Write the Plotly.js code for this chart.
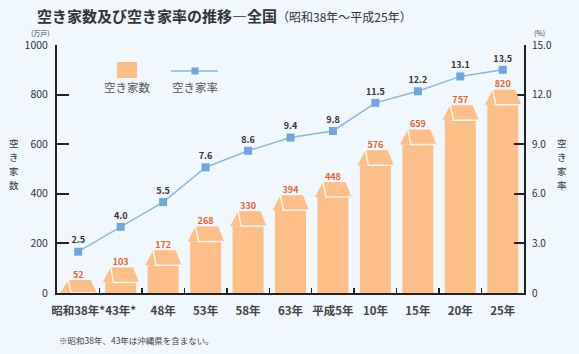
<!DOCTYPE html>
<html>
<head>
<meta charset="utf-8">
<script src="https://cdn.plot.ly/plotly-3.0.1.min.js"></script>
<style>
  html, body { margin: 0; padding: 0; background: #f0f7fd; }
  #chart { width: 579px; height: 354px; }
</style>
</head>
<body>
<div id="chart"></div>
<script>
// ---- data ----
const categories = ['昭和38年*', '43年*', '48年', '53年', '58年', '63年', '平成5年', '10年', '15年', '20年', '25年'];
const vacantHomes = [52, 103, 172, 268, 330, 394, 448, 576, 659, 757, 820];   // 万戸
const vacancyRate = [2.5, 4.0, 5.5, 7.6, 8.6, 9.4, 9.8, 11.5, 12.2, 13.1, 13.5]; // %
const leftTicks = [0, 200, 400, 600, 800, 1000];
const rightTicks = [0, 3, 6, 9, 12, 15];
const rightTickText = ['0', '3.0', '6.0', '9.0', '12.0', '15.0'];

// ---- geometry helpers (plot area in px) ----
const W = 579, H = 354;
const M = { l: 57, r: 55, t: 45, b: 61 };
const plotW = W - M.l - M.r, plotH = H - M.t - M.b;
const yMax = 1000;
const ux = (categories.length) / plotW;  // category units per px
const uy = yMax / plotH;                 // data units per px
const FONT = '"Noto Sans CJK JP", "Noto Sans", sans-serif';
const idx = categories.map((_, i) => i);

// house roof: height in px, capped by bar height
const roofPx = vacantHomes.map(v => Math.min(15, v / uy));
const bodyVals = vacantHomes.map((v, i) => v - roofPx[i] * uy);

const shapes = [];
vacantHomes.forEach((v, i) => {
  const eave = v - roofPx[i] * uy;
  const L = [i - 18 * ux, eave], P = [i - 10 * ux, v], Q = [i + 12.5 * ux, v], E = [i + 18.5 * ux, eave];
  shapes.push({
    type: 'path', xref: 'x', yref: 'y', layer: 'above',
    path: `M${L[0]},${L[1]} L${P[0]},${P[1]} L${Q[0]},${Q[1]} L${E[0]},${E[1]} Z`,
    fillcolor: '#fdbe87', line: { width: 0 }
  });
  const S = [i - 7 * ux, eave];
  shapes.push({
    type: 'path', xref: 'x', yref: 'y', layer: 'above',
    path: `M${P[0]},${P[1]} L${S[0]},${S[1]} L${E[0] - 0.5 * ux},${E[1]}`,
    line: { color: '#fff6ec', width: 1.5 }
  });
});

// ---- custom legend (paper coords from px) ----
const px2x = px => (px - M.l) / plotW;
const px2y = py => (M.t + plotH - py) / plotH;
shapes.push({ type: 'rect', xref: 'paper', yref: 'paper', x0: px2x(117), x1: px2x(137), y0: px2y(78), y1: px2y(62), fillcolor: '#fdbe87', line: { width: 0 } });
shapes.push({ type: 'line', xref: 'paper', yref: 'paper', x0: px2x(171), x1: px2x(218), y0: px2y(71), y1: px2y(71), line: { color: '#86b8e6', width: 1.5 } });
shapes.push({ type: 'rect', xref: 'paper', yref: 'paper', x0: px2x(191.5), x1: px2x(198.5), y0: px2y(74.5), y1: px2y(67.5), fillcolor: '#6ea7dd', line: { width: 0 } });

const annotations = [
  { text: '空き家数', xref: 'paper', yref: 'paper', x: px2x(127), y: px2y(87), showarrow: false, font: { family: FONT, size: 11.5, color: '#555' }, xanchor: 'center', yanchor: 'middle' },
  { text: '空き家率', xref: 'paper', yref: 'paper', x: px2x(195), y: px2y(87), showarrow: false, font: { family: FONT, size: 11.5, color: '#555' }, xanchor: 'center', yanchor: 'middle' },
  { text: '(万戸)', xref: 'paper', yref: 'paper', x: px2x(40), y: px2y(33), showarrow: false, font: { family: FONT, size: 7, color: '#444' }, xanchor: 'center', yanchor: 'middle' },
  { text: '(%)', xref: 'paper', yref: 'paper', x: px2x(539), y: px2y(33), showarrow: false, font: { family: FONT, size: 7, color: '#444' }, xanchor: 'center', yanchor: 'middle' },
  { text: '※昭和38年、43年は沖縄県を含まない。', xref: 'paper', yref: 'paper', x: px2x(57), y: px2y(340), showarrow: false, font: { family: FONT, size: 8.5, color: '#444' }, xanchor: 'left', yanchor: 'middle' }
];
// vertical axis titles, one upright character per annotation
function vertical(text, cxPx, cyPx) {
  const chars = Array.from(text);
  const size = 9.5, step = 14.3;
  chars.forEach((c, k) => {
    annotations.push({ text: c, xref: 'paper', yref: 'paper', x: px2x(cxPx), y: px2y(cyPx + (k - (chars.length - 1) / 2) * step), showarrow: false, font: { family: FONT, size: size, color: '#333' }, xanchor: 'center', yanchor: 'middle', borderpad: 0 });
  });
}
vertical('空き家数', 14, 164);
vertical('空き家率', 562, 164);

const traces = [
  {
    type: 'bar', name: '空き家数', x: idx, y: bodyVals, width: 0.73,
    marker: { color: '#fdbe87', line: { width: 0 } }, showlegend: false, hoverinfo: 'skip'
  },
  {
    type: 'scatter', mode: 'text', x: idx, y: vacantHomes, text: vacantHomes.map(String),
    textposition: 'top center', textfont: { family: FONT, size: 9, color: '#f0602e', weight: 700 },
    showlegend: false, hoverinfo: 'skip', cliponaxis: false
  },
  {
    type: 'scatter', mode: 'lines+markers+text', name: '空き家率', x: idx, y: vacancyRate, yaxis: 'y2',
    text: vacancyRate.map(v => v.toFixed(1)), textposition: 'top center',
    textfont: { family: FONT, size: 9, color: '#333', weight: 700 },
    line: { color: '#86b8e6', width: 1.5 },
    marker: { symbol: 'square', size: 8, color: '#6ea7dd' },
    showlegend: false, hoverinfo: 'skip', cliponaxis: false
  }
];

const layout = {
  width: W, height: H,
  margin: { l: M.l, r: M.r, t: M.t, b: M.b, pad: 0 },
  paper_bgcolor: '#f0f7fd', plot_bgcolor: '#f0f7fd',
  font: { family: FONT, color: '#333' },
  showlegend: false,
  title: {
    text: '<b>空き家数及び空き家率の推移―全国</b><span style="font-size:12px">（昭和38年〜平成25年）</span>',
    font: { family: FONT, size: 15, color: '#333' },
    xref: 'container', yref: 'container', x: 37 / W, xanchor: 'left', y: 1 - 17 / H, yanchor: 'middle'
  },
  xaxis: {
    range: [-0.5, categories.length - 0.5], tickmode: 'array', tickvals: idx, ticktext: categories,
    tickangle: 0,
    ticks: '', showline: true, linecolor: '#222', linewidth: 2, showgrid: false, zeroline: false,
    tickfont: { family: FONT, size: 11.5, color: '#444', weight: 600 }, ticklabelstandoff: 6,
    minor: { tickmode: 'array', tickvals: idx.slice(1).map(i => i - 0.5), ticks: 'inside', ticklen: 5, tickwidth: 1.5, tickcolor: '#222', showgrid: false },
    fixedrange: true
  },
  yaxis: {
    range: [0, yMax], tickmode: 'array', tickvals: leftTicks,
    ticks: 'inside', ticklen: 12, tickwidth: 2, tickcolor: '#222',
    showline: true, linecolor: '#222', linewidth: 2, showgrid: false, zeroline: false,
    tickfont: { family: FONT, size: 10.5, color: '#333' }, ticklabelstandoff: 5, fixedrange: true
  },
  yaxis2: {
    overlaying: 'y', side: 'right', range: [0, 15], tickmode: 'array', tickvals: rightTicks, ticktext: rightTickText,
    ticks: 'inside', ticklen: 10, tickwidth: 2, tickcolor: '#222',
    showline: true, linecolor: '#222', linewidth: 2, showgrid: false, zeroline: false,
    tickfont: { family: FONT, size: 10, color: '#333' }, ticklabelstandoff: 4, fixedrange: true
  },
  shapes: shapes,
  annotations: annotations
};

Plotly.newPlot('chart', traces, layout, { staticPlot: true, displayModeBar: false });
</script>
</body>
</html>
